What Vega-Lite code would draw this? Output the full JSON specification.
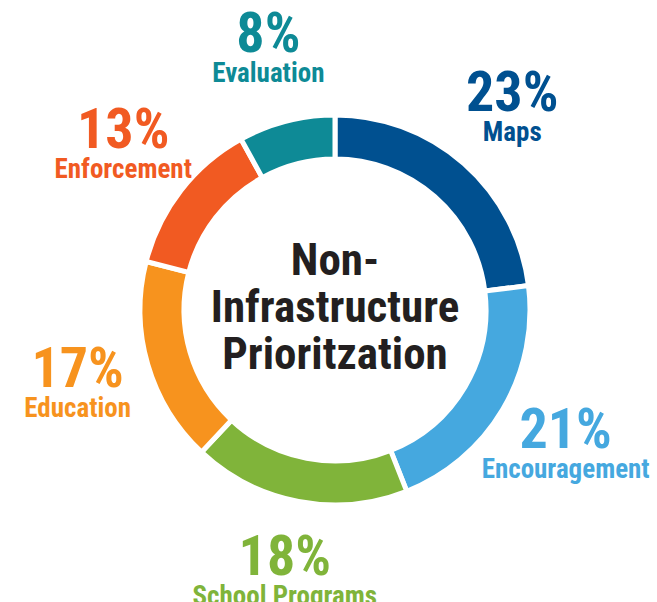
{
  "$schema": "https://vega.github.io/schema/vega-lite/v6.json",
  "width": 644,
  "height": 584,
  "autosize": {"type": "none"},
  "padding": {"left": 13, "top": 18, "right": 0, "bottom": 0},
  "background": "white",
  "config": {"view": {"stroke": null}},
  "data": {
    "values": [
      {"category": "Maps", "value": 0.23, "rank": 1},
      {"category": "Encouragement", "value": 0.21, "rank": 2},
      {"category": "School Programs", "value": 0.18, "rank": 3},
      {"category": "Education", "value": 0.17, "rank": 4},
      {"category": "Enforcement", "value": 0.13, "rank": 5},
      {"category": "Evaluation", "value": 0.08, "rank": 6}
    ]
  },
  "encoding": {
    "theta": {"field": "value", "type": "quantitative", "stack": true},
    "order": {"field": "rank", "type": "quantitative"},
    "color": {
      "field": "category",
      "type": "nominal",
      "scale": {
        "domain": ["Maps", "Encouragement", "School Programs", "Education", "Enforcement", "Evaluation"],
        "range": ["#005090", "#45A8DF", "#80B43A", "#F7931E", "#F15A22", "#0E8A96"]
      },
      "legend": null
    }
  },
  "layer": [
    {
      "mark": {"type": "arc", "outerRadius": 195, "innerRadius": 151, "stroke": "white", "strokeWidth": 5}
    },
    {
      "mark": {"type": "text", "radius": 268, "fontSize": 56, "fontWeight": "bold", "font": "Roboto Condensed, Liberation Sans Narrow, DejaVu Sans Condensed, sans-serif", "align": "center", "baseline": "alphabetic", "dy": 2},
      "encoding": {"text": {"field": "value", "type": "quantitative", "format": ".0%"}}
    },
    {
      "mark": {"type": "text", "radius": 268, "fontSize": 27, "fontWeight": "bold", "font": "Roboto Condensed, Liberation Sans Narrow, DejaVu Sans Condensed, sans-serif", "align": "center", "baseline": "alphabetic", "dy": 32},
      "encoding": {"text": {"field": "category", "type": "nominal"}}
    },
    {
      "data": {"values": [{"title": "Non-Infrastructure Prioritzation"}]},
      "mark": {"type": "text", "fontSize": 45, "fontWeight": "bold", "font": "Roboto Condensed, Liberation Sans Narrow, DejaVu Sans Condensed, sans-serif", "align": "center", "baseline": "middle", "lineHeight": 47, "color": "#231F20", "dy": -49},
      "encoding": {"text": {"value": ["Non-", "Infrastructure", "Prioritzation"]}, "theta": null, "order": null, "color": null}
    }
  ]
}
